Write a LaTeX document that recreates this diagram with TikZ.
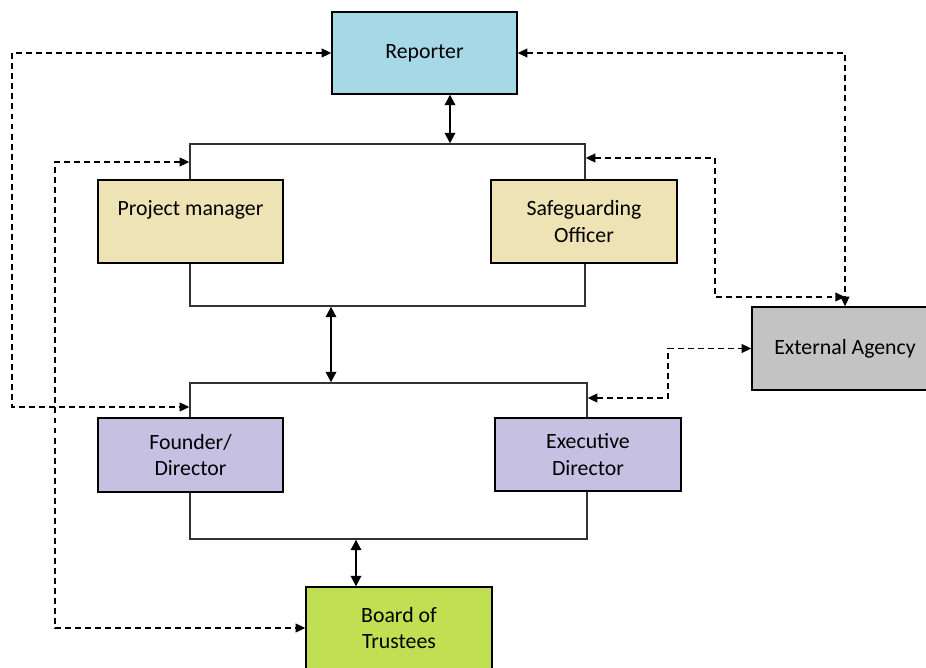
\documentclass[tikz,border=0pt]{standalone}
\usepackage{fontspec}
\setmainfont{Carlito}
\usetikzlibrary{arrows.meta}
\definecolor{reporterblue}{HTML}{A7D8E8}
\definecolor{staffsand}{HTML}{EEE3B5}
\definecolor{directlilac}{HTML}{C6C0E3}
\definecolor{boardlime}{HTML}{C1DF52}
\definecolor{agencygrey}{HTML}{C3C3C3}
\tikzset{
  unit/.style={draw, line width=0.8pt, align=center, inner sep=2pt,
    minimum width=3.72cm, minimum height=1.64cm,
    font=\fontsize{12.4}{15.3}\selectfont},
  frame/.style={draw=black!80, line width=0.8pt, inner sep=0pt},
  link/.style={line width=1.1pt,
    {Triangle[length=6pt,width=6pt]}-{Triangle[length=6pt,width=6pt]}},
  dlink/.style={line width=0.85pt, dash pattern=on 3.4pt off 2.3pt,
    {Triangle[length=5.5pt,width=5pt]}-{Triangle[length=5.5pt,width=5pt]}}
}
\begin{document}
\begin{tikzpicture}[x=0.02cm, y=-0.02cm]
  \useasboundingbox (0,0) rectangle (926,668);
  \node[frame, minimum width=7.9cm, minimum height=3.24cm] (upper) at (387.5,225) {};
  \node[frame, minimum width=7.94cm, minimum height=3.12cm] (lower) at (388.5,461) {};
  \node[unit, fill=reporterblue, minimum width=3.7cm] (reporter) at (424.5,53) {Reporter};
  \node[unit, fill=staffsand, minimum width=3.7cm, minimum height=1.66cm] (pm) at (190.5,221.5) {Project manager\\\mbox{}};
  \node[unit, fill=staffsand, minimum height=1.66cm] (so) at (584,221.5) {Safeguarding\\Officer};
  \node[unit, fill=directlilac, minimum width=3.7cm, minimum height=1.48cm] (founder) at (190.5,455) {Founder/\\Director};
  \node[unit, fill=directlilac, minimum height=1.46cm] (exec) at (588,454.5) {Executive\\Director};
  \node[unit, fill=boardlime] (board) at (399,628) {Board of\\Trustees};
  \node[unit, fill=agencygrey, minimum height=1.66cm] (agency) at (845,348.5) {External Agency};
  \draw[link] (reporter.south -| 450,0) -- (upper.north -| 450,0);
  \draw[link] (upper.south -| 331,0) -- (lower.north -| 331,0);
  \draw[link] (lower.south -| 356,0) -- (board.north -| 356,0);
  \draw[dlink] (reporter.west) -| (12,407) -- (lower.west |- 12,407);
  \draw[dlink] (upper.west |- 0,162) -| (55,628) -- (board.west);
  \draw[dlink] (reporter.east) -| (agency.north);
  \draw[dlink] (upper.east |- 0,158) -| (715,297) -- (agency.north |- 0,297);
  \draw[dlink] (lower.east |- 0,398) -| (668,348.5) -- (agency.west);
\end{tikzpicture}
\end{document}
